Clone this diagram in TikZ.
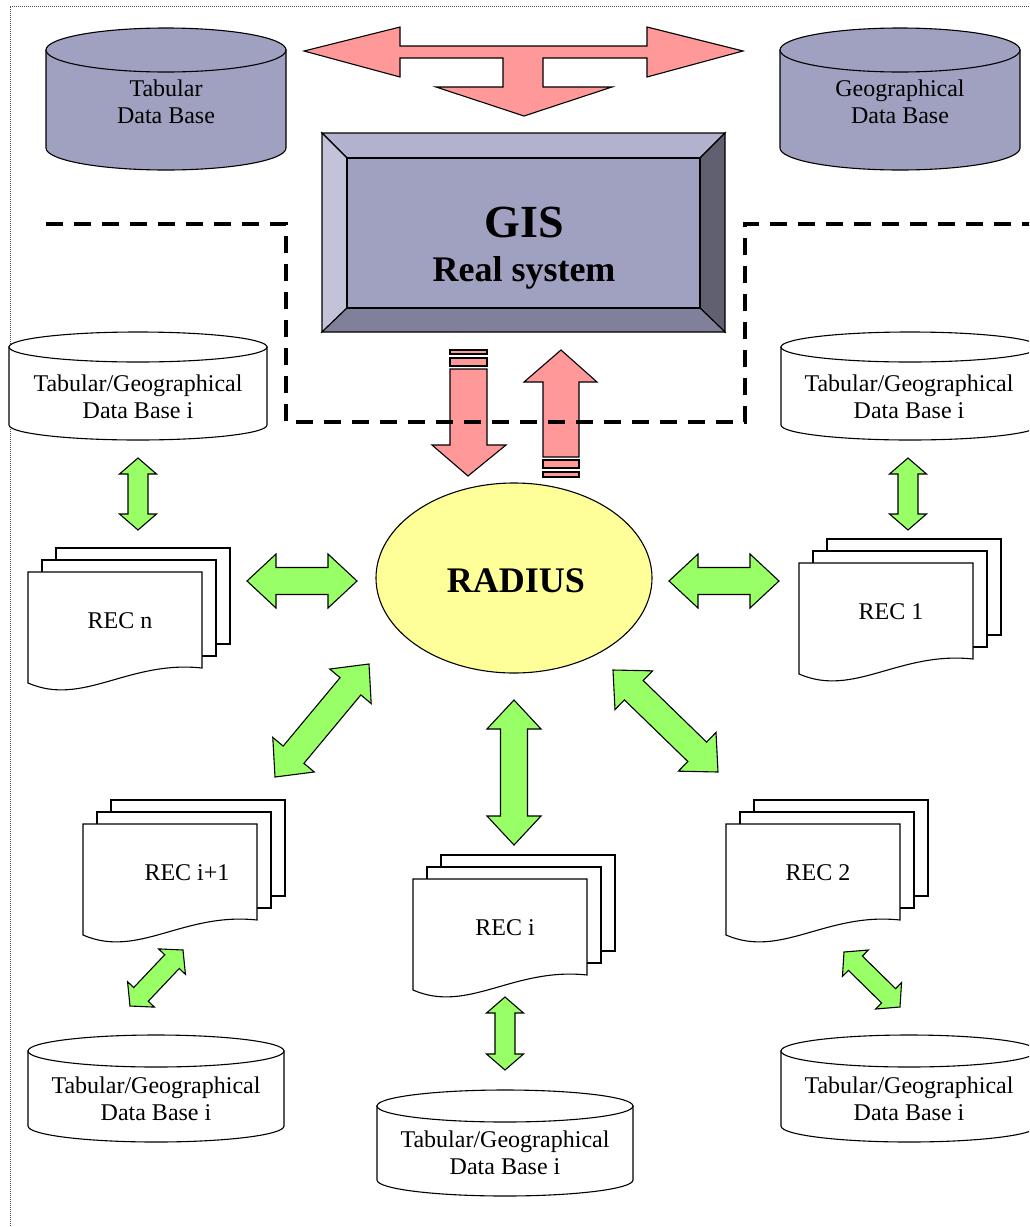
\documentclass[tikz,border=0pt]{standalone}
\usepackage{fontspec}
\setmainfont{Liberation Serif}
\usetikzlibrary{calc}
\usetikzlibrary{shapes.geometric}

\definecolor{dbblue}{RGB}{160,160,192}
\definecolor{bevtop}{RGB}{178,178,206}
\definecolor{bevleft}{RGB}{194,194,216}
\definecolor{bevright}{RGB}{96,96,112}
\definecolor{bevbottom}{RGB}{128,128,154}
\definecolor{pinkfill}{RGB}{255,153,153}
\definecolor{greenfill}{RGB}{153,255,102}
\definecolor{yellowfill}{RGB}{255,255,153}

\tikzset{
    outline/.style={draw=black,line width=1.1pt,line join=miter},
    greenarrow/.style={outline,fill=greenfill},
    pinkarrow/.style={outline,fill=pinkfill},
    bevel/.style={outline,fill=#1},
    dbtext/.style={align=center,font=\fontsize{24}{27}\selectfont,inner sep=0pt},
    rectext/.style={font=\fontsize{24}{27}\selectfont,inner sep=0pt},
    borderline/.style={draw=black!70,line width=0.8pt,dash pattern=on 1pt off 1pt},
    zoneline/.style={draw=black,line width=4pt,dash pattern=on 17pt off 11pt}
}

\newcommand\blockarrow[5]{%
    \draw[greenarrow] (#1)
        -- ($(#1)!#3!(#2)!#4!90:(#2)$)
        -- ($(#1)!#3!(#2)!#5!90:(#2)$)
        -- ($(#2)!#3!(#1)!#5!-90:(#1)$)
        -- ($(#2)!#3!(#1)!#4!-90:(#1)$)
        -- (#2)
        -- ($(#2)!#3!(#1)!#4!90:(#1)$)
        -- ($(#2)!#3!(#1)!#5!90:(#1)$)
        -- ($(#1)!#3!(#2)!#5!-90:(#2)$)
        -- ($(#1)!#3!(#2)!#4!-90:(#2)$)
        -- cycle;}
\newcommand\bigarrow[2]{\blockarrow{#1}{#2}{29pt}{27pt}{13.5pt}}
\newcommand\smallarrow[2]{\blockarrow{#1}{#2}{16pt}{18.5pt}{10pt}}

\newcommand\database[6]{%
    \draw[outline,fill=#6] ({#1-#4},#2) -- ({#1-#4},#3)
        arc[start angle=180,end angle=0,x radius=#4,y radius=#5] -- ({#1+#4},#2) -- cycle;
    \draw[outline,fill=#6] (#1,#2) ellipse[x radius=#4,y radius=#5];}

\newcommand\records[5][0]{%
    \draw[outline,fill=white] ({#3+28},{#4-24}) rectangle ({#3+202},{#4+72});
    \draw[outline,fill=white] ({#3+14},{#4-12}) rectangle ({#3+188},{#4+84});
    \draw[outline,fill=white] (#3,#4) -- ({#3+174},#4) -- ({#3+174},{#4+96})
        .. controls ({#3+100},{#4+88}) and ({#3+55},{#4+135}) .. (#3,{#4+111}) -- cycle;
    \node[rectext] (#2) at ({#3+92+#1},{#4+49}) {#5};}

\begin{document}
\begin{tikzpicture}[x=1pt,y=-1pt]
                    \clip (0,0) rectangle (1029,1227);
                    \draw[borderline] (10,1300) -- (10,6) -- (1100,6);

                    \database{166}{50}{148}{120}{22}{dbblue}
                    \node[dbtext] (TDB) at (166,102) {Tabular\\Data Base};
                    \database{900}{50}{148}{120}{22}{dbblue}
                    \node[dbtext] (GDB) at (900,102) {Geographical\\Data Base};

                    \draw[pinkarrow] (304,51) -- (400,27) -- (400,46) -- (647,46) -- (647,27)
                        -- (743,51) -- (647,77) -- (647,58) -- (543,58) -- (543,87) -- (612,87)
                        -- (524,116) -- (436,87) -- (503,87) -- (503,58) -- (400,58) -- (400,77) -- cycle;

                    \draw[bevel=bevtop] (322,133) -- (725,133) -- (700,158) -- (347,158) -- cycle;
                    \draw[bevel=bevleft] (322,133) -- (347,158) -- (347,308) -- (322,332) -- cycle;
                    \draw[bevel=bevright] (725,133) -- (725,332) -- (700,308) -- (700,158) -- cycle;
                    \draw[bevel=bevbottom] (322,332) -- (725,332) -- (700,308) -- (347,308) -- cycle;
                    \draw[bevel=dbblue] (347,158) rectangle (700,308);
                    \node[font=\fontsize{46}{50}\selectfont\bfseries,anchor=base] (GIS) at (524,237) {GIS};
                    \node[font=\fontsize{36}{40}\selectfont\bfseries,anchor=base] (RS) at (524,281) {Real system};

                    \draw[pinkarrow] (450,350) rectangle (487,354);
                    \draw[pinkarrow] (450,358) rectangle (487,366);
                    \draw[pinkarrow] (450,369) -- (487,369) -- (487,445) -- (506,445) -- (468,476)
                        -- (432,445) -- (450,445) -- cycle;
                    \draw[pinkarrow] (561,350) -- (597,382) -- (579,382) -- (579,457) -- (543,457)
                        -- (543,382) -- (524,382) -- cycle;
                    \draw[pinkarrow] (543,460) rectangle (579,468);
                    \draw[pinkarrow] (543,472) rectangle (579,477);

                    \draw[zoneline] (46,224) -- (286,224) -- (286,422) -- (745,422) -- (745,224) -- (1040,224);

                    \database{138}{347}{425}{129}{15}{white}
                    \node[dbtext] (DBn) at (138,397) {Tabular/Geographical\\Data Base i};
                    \database{910}{347}{425}{129}{15}{white}
                    \node[dbtext] (DB1) at (909,397) {Tabular/Geographical\\Data Base i};
                    \database{156}{1051}{1126}{128}{16}{white}
                    \node[dbtext] (DBj) at (156,1099) {Tabular/Geographical\\Data Base i};
                    \database{505}{1106}{1180}{128}{16}{white}
                    \node[dbtext] (DBi) at (505,1153) {Tabular/Geographical\\Data Base i};
                    \database{909}{1051}{1126}{128}{16}{white}
                    \node[dbtext] (DB2) at (909,1099) {Tabular/Geographical\\Data Base i};

                    \node[ellipse,outline,fill=yellowfill,minimum width=276pt,minimum height=190pt,
                        font=\fontsize{36}{40}\selectfont\bfseries] (RAD) at (514,578) {};
                    \node[font=\fontsize{36}{40}\selectfont\bfseries,anchor=base] at (516,592) {RADIUS};

                    \records{RECn}{28}{572}{REC n}
                    \records{REC1}{799}{563}{REC 1}
                    \records[12]{RECj}{83}{824}{REC i+1}
                    \records{REC2}{726}{824}{REC 2}
                    \records{RECi}{413}{879}{REC i}

                    \coordinate (P1) at (138,458);
                    \coordinate (Q1) at (138,530);
                    \coordinate (P2) at (908,458);
                    \coordinate (Q2) at (908,530);
                    \coordinate (P3) at (247,581);
                    \coordinate (Q3) at (357,581);
                    \coordinate (P4) at (669,581);
                    \coordinate (Q4) at (779,581);
                    \coordinate (P5) at (514,700);
                    \coordinate (Q5) at (514,845);
                    \coordinate (P6) at (369,664);
                    \coordinate (Q6) at (275,777);
                    \coordinate (P7) at (613,670);
                    \coordinate (Q7) at (718,772);
                    \coordinate (P8) at (183,950);
                    \coordinate (Q8) at (130,1006);
                    \coordinate (P9) at (844,952);
                    \coordinate (Q9) at (900,1007);
                    \coordinate (P10) at (505,997);
                    \coordinate (Q10) at (505,1070);

                    \smallarrow{P1}{Q1}
                    \smallarrow{P2}{Q2}
                    \bigarrow{P3}{Q3}
                    \bigarrow{P4}{Q4}
                    \bigarrow{P5}{Q5}
                    \bigarrow{P6}{Q6}
                    \bigarrow{P7}{Q7}
                    \smallarrow{P8}{Q8}
                    \smallarrow{P9}{Q9}
                    \smallarrow{P10}{Q10}
\end{tikzpicture}
\end{document}
